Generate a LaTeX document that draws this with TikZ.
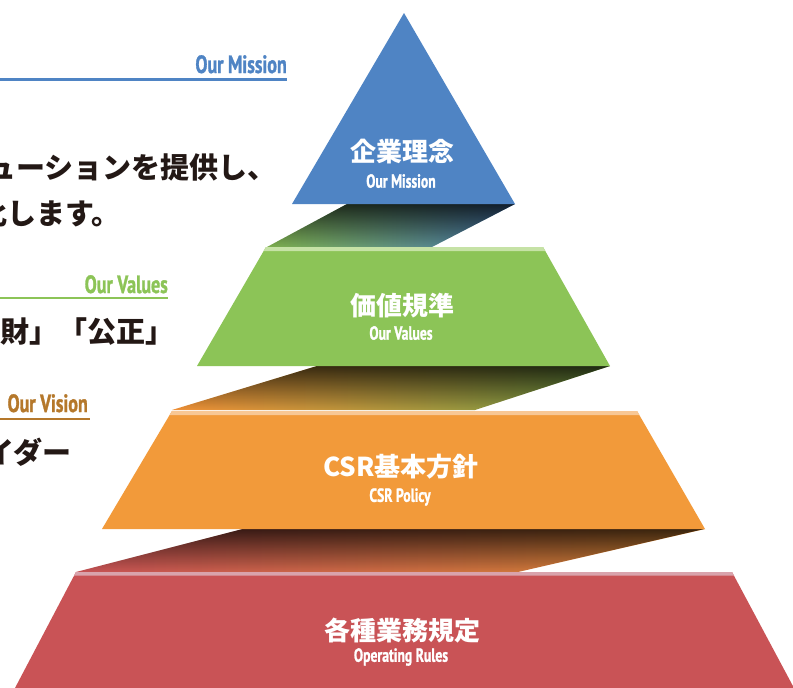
\documentclass[tikz,border=0pt]{standalone}
\usepackage{fontspec}
\usetikzlibrary{fadings}
\newfontfamily\cjk{Noto Sans CJK JP}
\newfontfamily\condf[FakeStretch=0.72,FakeBold=1.2]{PT Sans Bold}
\definecolor{mblue}{HTML}{4F84C4}
\definecolor{mgreen}{HTML}{8CC457}
\definecolor{morange}{HTML}{F29A3A}
\definecolor{mred}{HTML}{C95356}
\definecolor{vbrown}{HTML}{B5782B}
\definecolor{txtdark}{HTML}{231815}
\definecolor{hlgreen}{HTML}{C6E2A6}
\definecolor{hlorange}{HTML}{F8C794}
\definecolor{hlred}{HTML}{D9A3AC}
\tikzfading[name=topdark, top color=transparent!0, bottom color=transparent!100]
\tikzset{
  bodytxt/.style={inner sep=0pt, anchor=west, text=txtdark, font=\cjk\bfseries\fontsize{29}{29}\selectfont},
  headlbl/.style={inner sep=0pt, anchor=base east, font=\condf\fontsize{25}{25}\selectfont},
  jplbl/.style={inner sep=0pt, text=white, font=\cjk\bfseries\fontsize{26}{26}\selectfont},
  enlbl/.style={inner sep=0pt, text=white, font=\condf\fontsize{19}{19}\selectfont},
  darkover/.style={fill=black, path fading=topdark, fill opacity=0.74}
}
\begin{document}
\begin{tikzpicture}[x=1pt,y=-1pt]
\clip (0,0) rectangle (793,688);
\fill[white] (0,0) rectangle (793,688);

% ---------- connectors (shaded bands) ----------
\shade[left color=mgreen!90!black, right color=mblue!90!black]
  (347,204) -- (515,204) -- (432,247) -- (267,247) -- cycle;
\fill[darkover] (347,204) -- (515,204) -- (432,247) -- (267,247) -- cycle;

\shade[left color=morange!95!red, right color=mgreen!80!black]
  (317,366) -- (610,366) -- (475,410) -- (172,410) -- cycle;
\fill[darkover, fill opacity=0.72] (317,366) -- (610,366) -- (475,410) -- (172,410) -- cycle;

\shade[left color=mred, right color=morange!88!black]
  (243,529) -- (705,529) -- (518,572) -- (76,572) -- cycle;
\fill[darkover, fill opacity=0.72] (243,529) -- (705,529) -- (518,572) -- (76,572) -- cycle;

% ---------- pyramid layers ----------
\fill[mblue] (404,13) -- (515,204) -- (292,204) -- cycle;

\fill[mgreen] (266,247) -- (543,247) -- (610,366) -- (197,366) -- cycle;
\fill[hlgreen] (266,247) -- (543,247) -- (545.3,251) -- (263.7,251) -- cycle;

\fill[morange] (172,411) -- (637,411) -- (705,529) -- (102,529) -- cycle;
\fill[hlorange] (172,411) -- (637,411) -- (639.3,415) -- (169.7,415) -- cycle;

\fill[mred] (76,572) -- (732,572) -- (794,688) -- (15,688) -- cycle;
\fill[hlred] (76,572) -- (732,572) -- (734,575.5) -- (74.1,575.5) -- cycle;

% ---------- pyramid labels ----------
\node[jplbl] (l1j) at (402,152) {企業理念};
\node[enlbl] (l1e) at (401,181) {Our Mission};
\node[jplbl] (l2j) at (402,306) {価値規準};
\node[enlbl] (l2e) at (401,333) {Our Values};
\node[jplbl] (l3j) at (401,467) {CSR基本方針};
\node[enlbl] (l3e) at (400,497) {CSR Policy};
\node[jplbl] (l4j) at (402,631) {各種業務規定};
\node[enlbl] (l4e) at (401,657) {Operating Rules};

% ---------- left texts ----------
\node[headlbl, text=mblue] (hm) at (287,73) {Our Mission};
\fill[mblue] (0,78) rectangle (287,80.5);
\node[bodytxt] (t1) at (-13,167) {ューションを提供し、};
\node[bodytxt] (t2) at (-22,214) {化します。};

\node[headlbl, text=mgreen] (hv) at (168,293) {Our Values};
\fill[mgreen] (0,296.5) rectangle (168,299);
\node[bodytxt] (t3) at (0,332) {財」「公正」};

\node[headlbl, text=vbrown] (hvi) at (88,412) {Our Vision};
\fill[vbrown] (0,417.5) rectangle (90,420);
\node[bodytxt] (t4) at (-15,452) {イダー};
\end{tikzpicture}
\end{document}
